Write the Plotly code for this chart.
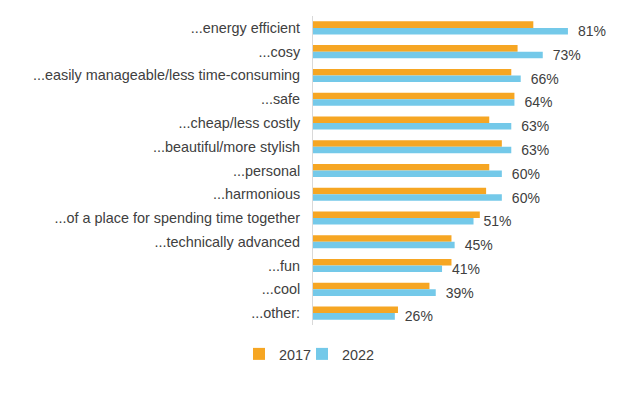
import plotly.graph_objects as go

categories = [
    "...energy efficient", "...cosy", "...easily manageable/less time-consuming",
    "...safe", "...cheap/less costly", "...beautiful/more stylish", "...personal",
    "...harmonious", "...of a place for spending time together",
    "...technically advanced", "...fun", "...cool", "...other:",
]
values_2017 = [70, 65, 63, 64, 56, 60, 56, 55, 53, 44, 44, 37, 27]
values_2022 = [81, 73, 66, 64, 63, 63, 60, 60, 51, 45, 41, 39, 26]
labels_2022 = [f"\u2002{v}%" for v in values_2022]

FONT = "Liberation Sans, Arial"

fig = go.Figure()
fig.add_trace(go.Bar(
    y=categories, x=values_2017, name="2017", orientation="h",
    marker=dict(color="#F6A623", line=dict(width=0)),
    legend="legend",
))
fig.add_trace(go.Bar(
    y=categories, x=values_2022, name="2022", orientation="h",
    marker=dict(color="#74C9E9", line=dict(width=0)),
    text=labels_2022, textposition="outside", cliponaxis=False,
    constraintext="none",
    textfont=dict(size=14, color="#404040", family=FONT),
    legend="legend2",
))

leg_common = dict(
    orientation="h", xref="container", yref="container",
    xanchor="left", y=0.087, yanchor="middle",
    font=dict(size=14.4, color="#404040"), itemwidth=30,
    bgcolor="rgba(0,0,0,0)",
)

fig.update_layout(
    width=611, height=379,
    margin=dict(l=305, r=7, t=8, b=62),
    barmode="group", bargap=0.45, bargroupgap=0,
    paper_bgcolor="white", plot_bgcolor="white",
    font=dict(family=FONT, size=14.4, color="#404040"),
    showlegend=True,
    legend=dict(x=231 / 611, **leg_common),
    legend2=dict(x=294 / 611, **leg_common),
    xaxis=dict(range=[0, 95], showgrid=False, showticklabels=False,
               zeroline=False, showline=False, fixedrange=True),
    yaxis=dict(autorange="reversed", showgrid=False, showline=True,
               linecolor="#D9D9D9", linewidth=1, ticks="",
               ticklabelstandoff=9, tickfont=dict(size=14.4, color="#404040")),
)

fig.write_html("out.html")
